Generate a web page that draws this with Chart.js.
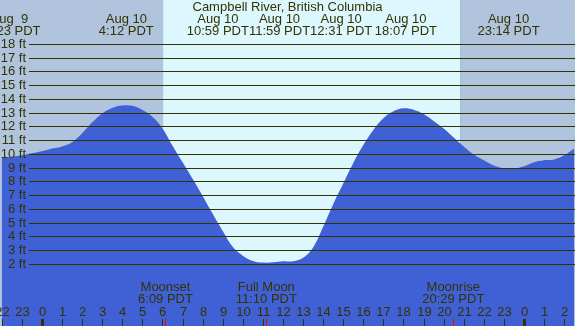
<!DOCTYPE html>
<html>
<head>
<meta charset="utf-8">
<title>Campbell River tides</title>
<script src="https://cdn.jsdelivr.net/npm/chart.js@4.4.0/dist/chart.umd.min.js"></script>
<style>
	html, body { margin: 0; padding: 0; background: #4060d6; }
	canvas { display: block; }
</style>
</head>
<body>
<canvas id="tideChart" width="575" height="326"></canvas>
<script>
// hours since Aug 10 00:00 PDT, and tide height in feet
const hours = [-2, -1.5, -1, -0.5, 0, 0.5, 1, 1.5, 2, 2.5, 3, 3.5, 4, 4.5, 5, 5.5, 6, 6.5, 7, 7.5, 8, 8.5, 9, 9.5, 10, 10.5, 11, 11.5, 12, 12.5, 13, 13.5, 14, 14.5, 15, 15.5, 16, 16.5, 17, 17.5, 18, 18.5, 19, 19.5, 20, 20.5, 21, 21.5, 22, 22.5, 23, 23.5, 24, 24.5, 25, 25.5, 26, 26.5];
const heights = [9.7, 9.8, 9.9, 10.05, 10.2, 10.4, 10.55, 10.85, 11.5, 12.3, 12.95, 13.35, 13.52, 13.5, 13.2, 12.7, 11.85, 10.6, 9.4, 8.2, 6.95, 5.65, 4.4, 3.25, 2.6, 2.22, 2.1, 2.13, 2.2, 2.2, 2.45, 3.2, 4.7, 6.35, 7.85, 9.35, 10.65, 11.75, 12.6, 13.1, 13.32, 13.22, 12.9, 12.4, 11.85, 11.2, 10.55, 9.97, 9.55, 9.17, 8.97, 8.93, 9.1, 9.4, 9.55, 9.6, 9.9, 10.4];

const yTicks = [2, 3, 4, 5, 6, 7, 8, 9, 10, 11, 12, 13, 14, 15, 16, 17, 18];
const hourTicks = [-2, -1, 0, 1, 2, 3, 4, 5, 6, 7, 8, 9, 10, 11, 12, 13, 14, 15, 16, 17, 18, 19, 20, 21, 22, 23, 24, 25, 26];
const hourLabels = ['22', '23', '0', '1', '2', '3', '4', '5', '6', '7', '8', '9', '10', '11', '12', '13', '14', '15', '16', '17', '18', '19', '20', '21', '22', '23', '0', '1', '2'];

const title = 'Campbell River, British Columbia';
const eventTimes = [-1.62, 4.2, 10.98, 11.98, 12.52, 18.12, 23.23];
const eventDates = ['Aug  9', 'Aug 10', 'Aug 10', 'Aug 10', 'Aug 10', 'Aug 10', 'Aug 10'];
const eventLabels = ['22:23 PDT', '4:12 PDT', '10:59 PDT', '11:59 PDT', '12:31 PDT', '18:07 PDT', '23:14 PDT'];

const moonTimes = [6.15, 11.17, 20.48];
const moonNames = ['Moonset', 'Full Moon', 'Moonrise'];
const moonLabels = ['6:09 PDT', '11:10 PDT', '20:29 PDT'];

const sunrise = 6.03;
const sunset = 20.82;

(function(){
	const NIGHT = '#b0c4de';
	const DAY = '#ddf7ff';
	const WATER = '#4060d6';
	const INK = '#333300';
	const FONT = '13px "Liberation Sans", Arial, sans-serif';

	// spread overlapping header labels around their mean position
	function placeGroup(grp){
		const mean = grp.reduce((a, b) => a + b.x, 0) / grp.length;
		const total = grp.reduce((a, b) => a + b.w, 0);
		let left = mean - total / 2;
		return grp.map(it => { const c = left + it.w / 2; left += it.w; return {c, w: it.w}; });
	}
	function layoutHeader(ctx, xs){
		const items = eventTimes.map((t, i) => ({
			x: xs.getPixelForValue(t),
			w: Math.max(ctx.measureText(eventDates[i]).width, ctx.measureText(eventLabels[i]).width)
		}));
		const groups = items.map(it => [it]);
		let changed = true;
		while(changed){
			changed = false;
			for(let g = 0; g < groups.length - 1; g++){
				const a = placeGroup(groups[g]);
				const b = placeGroup(groups[g + 1]);
				const aRight = a[a.length - 1].c + a[a.length - 1].w / 2;
				const bLeft = b[0].c - b[0].w / 2;
				if(aRight > bLeft + 0.5){
					groups.splice(g, 2, groups[g].concat(groups[g + 1]));
					changed = true;
					break;
				}
			}
		}
		const centers = [];
		for(const grp of groups){
			for(const p of placeGroup(grp)) centers.push(p.c);
		}
		return centers;
	}

	const decor = {
		id: 'tideDecor',
		beforeDatasetsDraw(chart){
			const {ctx, chartArea, scales} = chart;
			const xs = scales.x;
			const x1 = xs.getPixelForValue(sunrise);
			const x2 = xs.getPixelForValue(sunset);
			ctx.save();
			ctx.fillStyle = NIGHT;
			ctx.fillRect(chartArea.left, chartArea.top, x1 - chartArea.left, chartArea.bottom - chartArea.top);
			ctx.fillRect(x2, chartArea.top, chartArea.right - x2, chartArea.bottom - chartArea.top);
			ctx.fillStyle = DAY;
			ctx.fillRect(x1, chartArea.top, x2 - x1, chartArea.bottom - chartArea.top);
			ctx.restore();
		},
		afterDatasetsDraw(chart){
			const {ctx, chartArea, scales} = chart;
			const xs = scales.x, ys = scales.y;
			ctx.save();
			ctx.font = FONT;
			ctx.fillStyle = INK;
			ctx.strokeStyle = INK;
			ctx.lineWidth = 1;
			ctx.textBaseline = 'middle';

			// horizontal foot lines and labels
			ctx.textAlign = 'right';
			for(const v of yTicks){
				const y = Math.round(ys.getPixelForValue(v)) + 0.5;
				ctx.beginPath();
				ctx.moveTo(29, y);
				ctx.lineTo(chartArea.right, y);
				ctx.stroke();
				ctx.fillText(v + ' ft', 26, y);
			}

			// title and tide events
			ctx.textAlign = 'center';
			ctx.fillText(title, (chartArea.left + chartArea.right) / 2, 7.5);
			const centers = layoutHeader(ctx, xs);
			centers.forEach((c, i) => {
				ctx.fillText(eventDates[i], c, 19.5);
				ctx.fillText(eventLabels[i], c, 31.5);
			});

			// moon events
			moonTimes.forEach((t, i) => {
				const x = xs.getPixelForValue(t);
				ctx.fillText(moonNames[i], x, 287.5);
				ctx.fillText(moonLabels[i], x, 299.5);
			});

			// hour ticks
			const bottom = chartArea.bottom;
			hourTicks.forEach((h, i) => {
				const x = Math.round(xs.getPixelForValue(h));
				const midnight = h % 24 === 0;
				ctx.fillStyle = INK;
				ctx.fillRect(midnight ? x - 1 : x, bottom - 7, midnight ? 3 : 1, 7);
				ctx.fillText(hourLabels[i], x + 0.5, 312);
			});
			ctx.fillStyle = '#ff0000';
			for(const t of moonTimes){
				const x = Math.round(xs.getPixelForValue(t));
				ctx.fillRect(x, bottom - 7, 1, 7);
			}
			ctx.restore();
		}
	};

	new Chart(document.getElementById('tideChart'), {
		type: 'line',
		data: {
			datasets: [{
				data: hours.map((h, i) => ({x: h, y: heights[i]})),
				fill: 'start',
				backgroundColor: WATER,
				borderWidth: 0,
				pointRadius: 0,
				tension: 0.4
			}]
		},
		options: {
			responsive: false,
			animation: false,
			events: [],
			layout: { padding: 0 },
			plugins: {
				legend: { display: false },
				tooltip: { enabled: false }
			},
			scales: {
				x: { type: 'linear', min: -2.09, max: 26.54, display: false },
				y: { min: -2.51, max: 21.2, display: false }
			}
		},
		plugins: [decor]
	});
})();
</script>
</body>
</html>
